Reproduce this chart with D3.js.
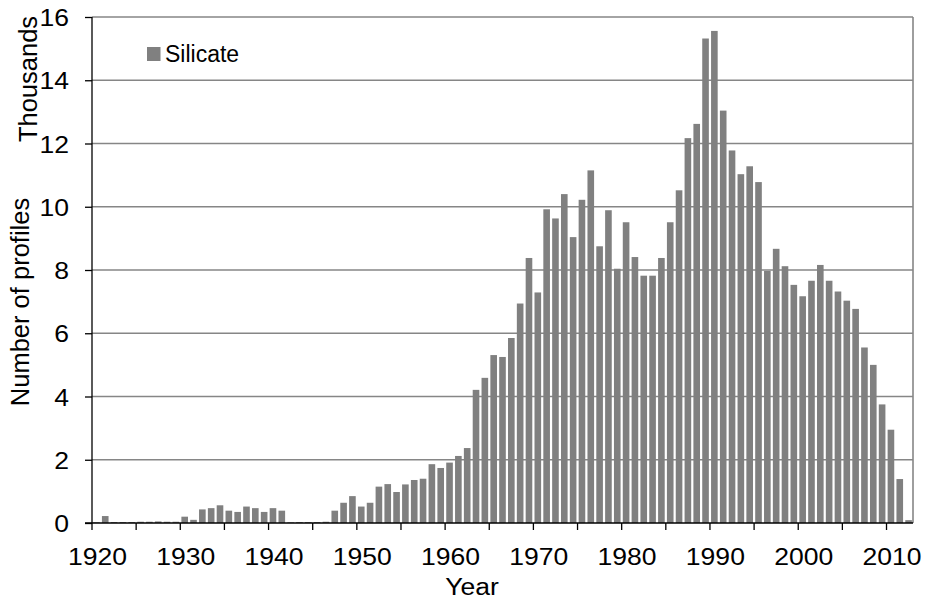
<!DOCTYPE html>
<html><head><meta charset="utf-8">
<script src="https://cdn.jsdelivr.net/npm/d3@7"></script>
<style>
html,body{margin:0;padding:0;background:#fff;}
svg text{font-family:"Liberation Sans",Arial,sans-serif;fill:#000;}
</style></head>
<body>
<svg id="chart" width="926" height="601"></svg>
<script>
// Years (categories)
const years = d3.range(1920, 2013);
// Number of silicate profiles, thousands
const silicate = [
  0.02, 0.22, 0.03, 0.03, 0.03, 0.04, 0.04, 0.05, 0.04, 0.04,
  0.20, 0.10, 0.43, 0.47, 0.56, 0.39, 0.35, 0.52, 0.47, 0.35,
  0.47, 0.39, 0.02, 0.03, 0.03, 0.03, 0.04, 0.39, 0.64, 0.85,
  0.52, 0.64, 1.15, 1.23, 0.98, 1.22, 1.36, 1.40, 1.86, 1.74,
  1.91, 2.12, 2.37, 4.21, 4.59, 5.31, 5.25, 5.85, 6.94, 8.38,
  7.29, 9.92, 9.63, 10.40, 9.04, 10.22, 11.15, 8.75, 9.89, 8.04,
  9.51, 8.41, 7.82, 7.82, 8.38, 9.51, 10.52, 12.17, 12.62, 15.32,
  15.56, 13.04, 11.78, 11.03, 11.28, 10.78, 7.97, 8.67, 8.12, 7.53,
  7.17, 7.66, 8.16, 7.66, 7.32, 7.03, 6.77, 5.55, 5.00, 3.75,
  2.95, 1.39, 0.09
];
const yTicks = [0, 2, 4, 6, 8, 10, 12, 14, 16];
const xLabelYears = [1920, 1930, 1940, 1950, 1960, 1970, 1980, 1990, 2000, 2010];
const xTickYears = d3.range(1920, 2011, 5);
const seriesName = "Silicate";
const yTitle = "Number of profiles";
const unitLabel = "Thousands";
const xTitle = "Year";

const W = 926, H = 601;
const m = {left: 92, right: 13, top: 17, bottom: 78};
const pw = W - m.left - m.right, ph = H - m.top - m.bottom;
const svg = d3.select("#chart");
const g = svg.append("g").attr("transform", `translate(${m.left},${m.top})`);

const x = d3.scaleBand().domain(years).range([0, pw]).paddingInner(0.25).paddingOuter(0.125);
const y = d3.scaleLinear().domain([0, 16]).range([ph, 0]);
const step = x.step();
const boundary = yr => x(yr) - step * 0.125;
const FS = 23.5, SX = 1.13;

const gridColor = "#868686";
// gridlines
g.selectAll("line.grid").data(yTicks.filter(d => d > 0)).join("line")
  .attr("x1", 0).attr("x2", pw)
  .attr("y1", d => y(d)).attr("y2", d => y(d))
  .attr("stroke", gridColor).attr("stroke-width", 1.3);
// right border
g.append("line").attr("x1", pw).attr("x2", pw).attr("y1", 0).attr("y2", ph)
  .attr("stroke", gridColor).attr("stroke-width", 1.6);

// bars
g.selectAll("rect.bar").data(years.map((yr, i) => ({yr, v: silicate[i]}))).join("rect")
  .attr("x", d => x(d.yr)).attr("width", x.bandwidth())
  .attr("y", d => y(d.v)).attr("height", d => y(0) - y(d.v))
  .attr("fill", "#808080");

// y axis
const yAxis = d3.axisLeft(y).tickValues(yTicks).tickSize(7).tickFormat(d3.format("d"));
const ya = g.append("g").call(yAxis);
ya.select(".domain").attr("stroke", "#000").attr("stroke-width", 1.3).attr("d", `M0,0V${ph}`);
ya.selectAll(".tick line").attr("stroke", "#000").attr("stroke-width", 1.3);
ya.selectAll(".tick text")
  .attr("x", null).attr("dy", null)
  .attr("transform", `translate(-23,8.5) scale(${SX},1)`)
  .attr("font-size", FS).attr("font-family", "Liberation Sans, Arial, sans-serif");

// x axis: ticks at category boundaries, labels at category centers
const xa = g.append("g").attr("transform", `translate(0,${ph})`);
xa.append("line").attr("x1", -7).attr("x2", pw).attr("y1", 0).attr("y2", 0)
  .attr("stroke", "#000").attr("stroke-width", 1.3);
xa.selectAll("line.xt").data(xTickYears).join("line")
  .attr("x1", d => boundary(d)).attr("x2", d => boundary(d))
  .attr("y1", 0).attr("y2", 7).attr("stroke", "#000").attr("stroke-width", 1.3);
xa.selectAll("text.xl").data(xLabelYears).join("text")
  .attr("transform", d => `translate(${x(d) + x.bandwidth() / 2 + 1},42) scale(${SX},1)`)
  .attr("text-anchor", "middle").attr("font-size", FS).text(d => d);

// axis titles
svg.append("text").attr("transform", `translate(472,595) scale(${SX},1)`).attr("text-anchor", "middle")
  .attr("font-size", FS).text(xTitle);
svg.append("text").attr("transform", "translate(28.5,302) rotate(-90)")
  .attr("text-anchor", "middle").attr("font-size", 25.5).text(yTitle);
svg.append("text").attr("transform", "translate(37,79) rotate(-90)")
  .attr("text-anchor", "middle").attr("font-size", 25.5).text(unitLabel);

// legend
const lg = svg.append("g").attr("transform", "translate(147,47)");
lg.append("rect").attr("x", 0).attr("y", 0).attr("width", 13.5).attr("height", 14).attr("fill", "#808080");
lg.append("text").attr("x", 18).attr("y", 14.5).attr("font-size", 23).text(seriesName);
</script>
</body></html>
